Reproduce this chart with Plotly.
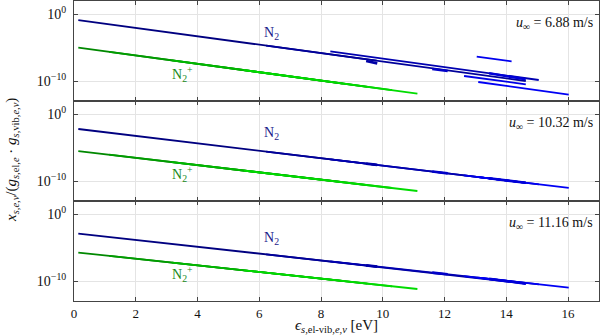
import numpy as np
import plotly.graph_objects as go
from plotly.subplots import make_subplots

# ---------------- data ----------------
speeds = ["6.88", "10.32", "11.16"]          # free-stream velocity per panel [m/s]
reference_level = 1.0                          # dotted reference line

# N2 electronic-state lines: energy of first / last level [eV]
n2_e_first = [0.14, 6.22, 8.30, 9.46, 11.60, 12.63, 13.04, 13.09, 13.44]
n2_e_last = [9.80, 14.63, 15.05, 9.82, 12.10, 14.63, 14.17, 16.02, 14.63]
# log10 of normalised population at first / last level, one row per panel
n2_log_first = [
    [-0.855, -4.69, -5.55, -7.00, -8.20, -9.25, -6.36, -10.15, -8.85],
    [-2.20, -5.58, -6.74, -7.39, -8.58, -9.15, -9.38, -9.41, -9.60],
    [-2.90, -6.00, -7.06, -7.65, -8.74, -9.27, -9.48, -9.50, -9.68],
]
n2_log_last = [
    [-6.95, -10.00, -9.85, -7.35, -8.50, -10.50, -7.05, -12.05, -9.75],
    [-7.58, -10.27, -10.50, -7.59, -8.86, -10.27, -10.01, -11.04, -10.27],
    [-7.83, -10.39, -10.50, -7.84, -9.00, -10.39, -10.06, -11.00, -10.39],
]

# N2+ electronic-state lines
n2p_e_first = [0.14, 1.14, 3.17, 5.50]
n2p_e_last = [8.70, 9.50, 10.30, 11.12]
n2p_log_first = [
    [-5.00, -5.63, -6.90, -8.37],
    [-5.52, -6.06, -7.17, -8.44],
    [-5.73, -6.23, -7.24, -8.40],
]
n2p_log_last = [
    [-10.38, -10.88, -11.38, -11.90],
    [-10.18, -10.62, -11.05, -11.50],
    [-9.99, -10.39, -10.79, -11.20],
]

x_ticks = [0, 2, 4, 6, 8, 10, 12, 14, 16]
y_ticks = [1.0, 1e-10]
y_ticktext = ["10<sup>0</sup>", "10<sup>−10</sup>"]

# label positions (energy, log10 value) per panel
n2_label_pos = [(6.4, -2.88), (6.4, -2.84), (6.4, -3.69)]
n2p_label_pos = [(3.5, -8.9), (3.5, -9.0), (3.5, -8.9)]

# ---------------- style ----------------
n2_colors = ["#000080", "#00009a", "#0000b0", "#0000a8", "#0000c8", "#0000e6", "#0000ee", "#0000f4", "#0000d8"]
n2_widths = [1.8, 1.8, 1.8, 2.8, 2.6, 1.8, 1.8, 1.8, 2.6]
n2p_colors = ["#008800", "#009c00", "#00b800", "#00dc00"]
FONT = "Liberation Serif, Times New Roman, serif"

fig = make_subplots(rows=3, cols=1, shared_xaxes=True, vertical_spacing=0)

for p in range(3):
    row = p + 1
    for i in range(len(n2_e_first)):
        fig.add_trace(go.Scatter(
            x=[n2_e_first[i], n2_e_last[i]],
            y=[10.0 ** n2_log_first[p][i], 10.0 ** n2_log_last[p][i]],
            mode="lines", line=dict(color=n2_colors[i], width=n2_widths[i]),
            showlegend=False, hoverinfo="skip"), row=row, col=1)
    for i in range(len(n2p_e_first)):
        fig.add_trace(go.Scatter(
            x=[n2p_e_first[i], n2p_e_last[i]],
            y=[10.0 ** n2p_log_first[p][i], 10.0 ** n2p_log_last[p][i]],
            mode="lines", line=dict(color=n2p_colors[i], width=1.8),
            showlegend=False, hoverinfo="skip"), row=row, col=1)
    # dotted reference line
    yname = "y" if p == 0 else f"y{row}"
    xname = "x" if p == 0 else f"x{row}"
    fig.add_shape(type="line", xref=f"{xname} domain", yref=yname,
                  x0=0, x1=1, y0=np.log10(reference_level), y1=np.log10(reference_level),
                  line=dict(color="#222", width=1, dash="1px,3px"), layer="above")
    # annotations
    fig.add_annotation(x=1 - 4 / 525, y=0.775, xref=f"{xname} domain", yref=f"{yname} domain",
                       text=f"<i>u</i><sub>∞</sub> = {speeds[p]} m/s", showarrow=False,
                       xanchor="right", yanchor="middle",
                       font=dict(family=FONT, size=14, color="#111"))
    fig.add_annotation(x=n2_label_pos[p][0], y=n2_label_pos[p][1], xref=xname, yref=yname,
                       text="N<sub>2</sub>", showarrow=False, xanchor="center", yanchor="middle",
                       font=dict(family=FONT, size=14, color="#1a1a8a"))
    fig.add_annotation(x=n2p_label_pos[p][0], y=n2p_label_pos[p][1], xref=xname, yref=yname,
                       text="N<sub>2</sub><sup>+</sup>", showarrow=False, xanchor="center", yanchor="middle",
                       font=dict(family=FONT, size=14, color="#1a8a1a"))

    fig.update_yaxes(type="log", range=[-13, 2], tickvals=y_ticks, ticktext=y_ticktext,
                     showgrid=True, gridcolor="#e4e4e4", gridwidth=1,
                     ticks="inside", ticklen=4, tickcolor="#444", mirror="ticks",
                     showline=True, linecolor="#444", linewidth=1, zeroline=False,
                     ticklabelstandoff=4,
                     tickfont=dict(family=FONT, size=14, color="#111"), row=row, col=1)
    fig.update_xaxes(range=[0, 17], tickvals=x_ticks, showgrid=True, gridcolor="#e4e4e4",
                     gridwidth=1, ticks="inside", ticklen=4, tickcolor="#444", mirror="ticks",
                     showline=True, linecolor="#444", linewidth=1, zeroline=False,
                     tickfont=dict(family=FONT, size=13, color="#111"), row=row, col=1)

fig.update_xaxes(showticklabels=True, row=3, col=1)

fig.add_annotation(x=0.5, y=-25 / 300, xref="paper", yref="paper",
                   text="<i>ϵ</i><sub><i>s</i>,el-vib,<i>e</i>,<i>v</i></sub> [eV]",
                   showarrow=False, xanchor="center", yanchor="middle",
                   font=dict(family=FONT, size=15, color="#111"))
fig.add_annotation(x=-62 / 525, y=0.47, xref="paper", yref="paper", textangle=-90,
                   text="<i>x</i><sub><i>s</i>,<i>e</i>,<i>v</i></sub>/(<i>g</i><sub><i>s</i>,el,<i>e</i></sub> · <i>g</i><sub><i>s</i>,vib,<i>e</i>,<i>v</i></sub>)",
                   showarrow=False, xanchor="center", yanchor="middle",
                   font=dict(family=FONT, size=15, color="#111"))

fig.update_layout(width=600, height=336, margin=dict(l=74, r=1, t=1, b=35),
                  font=dict(family=FONT, size=13, color="#111"),
                  plot_bgcolor="white", paper_bgcolor="white", showlegend=False)

fig.write_html("out.html", config={"displayModeBar": False},
               post_script="document.body.style.margin='0px';document.body.style.padding='0px';")
